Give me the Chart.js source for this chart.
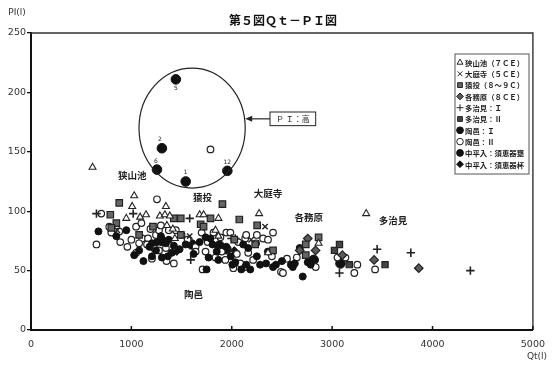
<!DOCTYPE html>
<html lang="ja">
<head>
<meta charset="utf-8">
<title>第５図Ｑｔ－ＰＩ図</title>
<script src="https://cdn.jsdelivr.net/npm/chart.js@4.4.1/dist/chart.umd.min.js"></script>
<style>
  html, body { margin: 0; padding: 0; background: #fff; }
  #wrap { width: 554px; height: 368px; position: relative; }
</style>
</head>
<body>
<div id="wrap"><canvas id="c" width="554" height="368"></canvas></div>
<script>
// ---- axis ticks ----
const qtTicks = [0, 1000, 2000, 3000, 4000, 5000];
const piTicks = [0, 50, 100, 150, 200, 250];

// ---- 狭山池（7CE） ----
const sayamaikeQt = [613, 1028, 1008, 1344, 949, 1087, 1146, 1284, 1334, 1383, 1680, 1719, 1867, 1354, 1413, 1433, 1838, 1867, 2272, 2361, 2865, 3339];
const sayamaikePI = [137, 113, 104, 104, 94, 95, 97, 96, 97, 96, 97, 97, 94, 88, 85, 77, 84, 79, 98, 65, 73, 98];

// ---- 大庭寺（5CE） ----
const obaderaQt = [860, 1581, 1996, 2193, 2332];
const obaderaPI = [84, 79, 67, 76, 87];

// ---- 猿投（8～9C） ----
const sanageQt = [879, 790, 850, 800, 1215, 1077, 1423, 1492, 1788, 1907, 1690, 1719, 1492, 2075, 2253, 2233, 2411, 2865, 2737, 2737, 2025];
const sanagePI = [107, 97, 90, 86, 87, 80, 94, 94, 94, 106, 89, 87, 80, 93, 88, 72, 67, 78, 72, 63, 76];

// ---- 各務原（8CE） ----
const kakamiQt = [2757, 2835, 2677, 3102, 3418, 3863];
const kakamiPI = [77, 67, 67, 63, 59, 52];

// ---- 多治見：I ----
const tajimi1Qt = [652, 1018, 1581, 1996, 2035, 3448, 3784, 4377, 3073, 1591];
const tajimi1PI = [98, 98, 94, 77, 77, 68, 65, 50, 48, 59];

// ---- 多治見：II ----
const tajimi2Qt = [3023, 3073, 3171, 3527];
const tajimi2PI = [67, 72, 55, 55];

// ---- 陶邑：I ----
const suemura1Qt = [672, 850, 1205, 1245, 1028, 1205, 1255, 1344, 1363, 1304, 1403, 1541, 1739, 1788, 1769, 1867, 2035, 2144, 1749, 2095, 2184, 1077, 1946, 2114, 2006, 2282, 2342, 2411, 2440, 2589, 2608, 2677, 2757, 2786, 2628, 2707, 1808, 1423, 1294, 2164, 1373,
  1180, 1480, 1620, 1680, 1850, 2250, 2500, 1120, 2360, 1990, 950];
const suemura1PI = [83, 79, 73, 67, 63, 62, 74, 73, 62, 61, 65, 72, 78, 77, 61, 59, 57, 55, 51, 51, 51, 67, 70, 72, 55, 55, 56, 53, 55, 55, 53, 69, 57, 55, 56, 45, 72, 71, 79, 69, 76,
  70, 68, 64, 74, 66, 62, 58, 58, 66, 62, 84];

// ---- 陶邑：II ----
const suemura2Qt = [1255, 700, 1047, 800, 879, 1107, 1166, 1245, 652, 889, 1156, 1047, 1205, 780, 1275, 1294, 1373, 1443, 1077, 1225, 1275, 1344, 1640, 1818, 1887, 1946, 2065, 2134, 1423, 1640, 1739, 1838, 1936, 2085, 2213, 1709, 2016, 1986, 2144, 2243, 2312, 2361, 2411, 2164, 2134, 2490, 2510, 2648, 2836, 3053, 3132, 3251, 3221, 3428, 1788,
  1100, 1190, 1500, 1560, 1700, 1760, 2250, 2050, 1900, 1350, 2400, 2550, 1000, 960];
const suemura2PI = [110, 98, 87, 82, 83, 77, 77, 80, 72, 74, 72, 65, 60, 87, 84, 88, 84, 84, 73, 69, 67, 69, 70, 82, 78, 82, 74, 77, 56, 66, 66, 61, 59, 56, 59, 51, 52, 82, 80, 73, 77, 76, 82, 65, 53, 49, 48, 61, 53, 61, 61, 55, 48, 51, 152,
  90, 85, 80, 76, 82, 74, 80, 64, 66, 58, 62, 60, 76, 70];

// ---- 中平入：須恵器甕 (sample numbers for the high-PI group) ----
const nakahiraKameQt = [1443, 1304, 1255, 1541, 1956, 1304, 1600, 1877, 1946, 3083, 2816];
const nakahiraKamePI = [211, 153, 135, 125, 134, 75, 72, 71, 68, 56, 59];
const nakahiraKameNo = ['5', '2', '6', '1', '12'];

// ---- 中平入：須恵器杯 ----
const nakahiraTukiQt = [1452, 2025];
const nakahiraTukiPI = [66, 67];

// ---- group names written on the plot ----
const regionNames = ['狭山池', '猿投', '大庭寺', '各務原', '多治見', '陶邑'];
const regionQt = [1008, 1709, 2361, 2766, 3606, 1620];
const regionPI = [130.5, 112, 115, 95, 92, 30];

const pairs = (qt, pi) => qt.map((v, i) => ({ x: v, y: pi[i] }));

const series = [
  { label: '狭山池（７ＣＥ）', qt: sayamaikeQt, pi: sayamaikePI, style: 'triangle', r: 4.0, fill: '#fff', line: '#222', bw: 1.1 },
  { label: '大庭寺（５ＣＥ）', qt: obaderaQt, pi: obaderaPI, style: 'crossRot', r: 3.8, fill: '#222', line: '#222', bw: 1.4 },
  { label: '猿投（８～９Ｃ）', qt: sanageQt, pi: sanagePI, style: 'rect', r: 4.6, fill: '#666', line: '#222', bw: 1.2 },
  { label: '各務原（８ＣＥ）', qt: kakamiQt, pi: kakamiPI, style: 'rectRot', r: 4.3, fill: '#5a5a5a', line: '#222', bw: 1.2 },
  { label: '多治見：Ｉ', qt: tajimi1Qt, pi: tajimi1PI, style: 'cross', r: 4.2, fill: '#222', line: '#222', bw: 1.6 },
  { label: '多治見：Ⅱ', qt: tajimi2Qt, pi: tajimi2PI, style: 'rect', r: 4.4, fill: '#444', line: '#222', bw: 1.2 },
  { label: '陶邑：Ｉ', qt: suemura1Qt, pi: suemura1PI, style: 'circle', r: 3.5, fill: '#111', line: '#111', bw: 1 },
  { label: '陶邑：Ⅱ', qt: suemura2Qt, pi: suemura2PI, style: 'circle', r: 3.3, fill: '#fff', line: '#222', bw: 1.2 },
  { label: '中平入：須恵器甕', qt: nakahiraKameQt, pi: nakahiraKamePI, style: 'circle', r: 4.8, fill: '#111', line: '#111', bw: 1 },
  { label: '中平入：須恵器杯', qt: nakahiraTukiQt, pi: nakahiraTukiPI, style: 'rectRot', r: 3.8, fill: '#111', line: '#111', bw: 1 }
];

const datasets = series.map(s => ({
  label: s.label,
  data: pairs(s.qt, s.pi),
  pointStyle: s.style,
  pointRadius: s.r,
  pointBackgroundColor: s.fill,
  pointBorderColor: s.line,
  pointBorderWidth: s.bw,
  showLine: false
}));

const CJK = '"Noto Sans CJK JP", "Noto Sans CJK SC", sans-serif';

const overlay = {
  id: 'overlay',
  afterDraw(chart) {
    const { ctx, chartArea: a } = chart;
    const sx = chart.scales.x, sy = chart.scales.y;
    const X = v => sx.getPixelForValue(v), Y = v => sy.getPixelForValue(v);
    ctx.save();

    // frame: top and right edges of the plot
    ctx.strokeStyle = '#333';
    ctx.lineWidth = 1.4;
    ctx.beginPath();
    ctx.moveTo(a.left, a.top);
    ctx.lineTo(a.right, a.top);
    ctx.lineTo(a.right, a.bottom);
    ctx.stroke();

    // short tick marks standing on the Qt axis
    ctx.strokeStyle = '#111';
    ctx.lineWidth = 1.5;
    qtTicks.forEach(v => {
      const px = X(v);
      ctx.beginPath();
      ctx.moveTo(px, a.bottom);
      ctx.lineTo(px, a.bottom - 4);
      ctx.stroke();
    });

    // title and axis names
    ctx.fillStyle = '#111';
    ctx.font = 'bold 12px ' + CJK;
    ctx.textAlign = 'center';
    ctx.textBaseline = 'middle';
    ctx.fillText('第５図Ｑｔ－ＰＩ図', 283, 20);

    ctx.fillStyle = '#333';
    ctx.font = '9px "DejaVu Sans", sans-serif';
    ctx.fillText('PI(l)', 17, 13);
    ctx.fillText('Qt(l)', 537, 357);

    // group names
    ctx.fillStyle = '#222';
    ctx.font = 'bold 9.5px ' + CJK;
    regionNames.forEach((n, i) => ctx.fillText(n, X(regionQt[i]), Y(regionPI[i])));

    // high-PI group: ellipse, callout and sample numbers
    const cx = X(1605), cy = Y(170);
    const rx = X(1605 + 529) - cx, ry = cy - Y(170 + 50.5);
    ctx.strokeStyle = '#222';
    ctx.lineWidth = 1.2;
    ctx.beginPath();
    ctx.ellipse(cx, cy, rx, ry, 0, 0, Math.PI * 2);
    ctx.stroke();

    const bx0 = X(2381), bx1 = X(2836), by0 = Y(183.5), by1 = Y(172);
    ctx.lineWidth = 1;
    ctx.strokeRect(bx0, by0, bx1 - bx0, by1 - by0);
    ctx.fillStyle = '#222';
    ctx.font = '8px ' + CJK;
    ctx.fillText('Ｐ Ｉ：高', (bx0 + bx1) / 2, (by0 + by1) / 2 + 0.5);

    const ay = (by0 + by1) / 2, tip = cx + rx;
    ctx.lineWidth = 1.2;
    ctx.beginPath();
    ctx.moveTo(bx0, ay);
    ctx.lineTo(tip + 5, ay);
    ctx.stroke();
    ctx.beginPath();
    ctx.moveTo(tip, ay);
    ctx.lineTo(tip + 7, ay - 3);
    ctx.lineTo(tip + 7, ay + 3);
    ctx.closePath();
    ctx.fill();

    const noOffsets = [[0, 9], [-2, -9], [-1, -8], [0, -9], [0, -8]];
    ctx.font = '6px "DejaVu Sans", sans-serif';
    nakahiraKameNo.forEach((t, i) => {
      ctx.fillText(t, X(nakahiraKameQt[i]) + noOffsets[i][0], Y(nakahiraKamePI[i]) + noOffsets[i][1]);
    });

    // legend box
    const lx = 455, ly = 54, lw = 74, lh = 120, step = 11.3;
    ctx.fillStyle = '#fff';
    ctx.fillRect(lx, ly, lw, lh);
    ctx.strokeStyle = '#555';
    ctx.lineWidth = 1;
    ctx.strokeRect(lx, ly, lw, lh);
    ctx.textAlign = 'left';
    ctx.font = 'bold 7.4px ' + CJK;
    series.forEach((s, i) => {
      const ry2 = ly + 8.5 + i * step;
      ctx.fillStyle = s.fill;
      ctx.strokeStyle = s.line;
      Chart.helpers.drawPoint(ctx, {
        pointStyle: s.style,
        radius: Math.min(s.r, 3.4),
        rotation: 0,
        borderWidth: s.bw
      }, lx + 5, ry2);
      ctx.fillStyle = '#222';
      ctx.fillText(s.label, lx + 10, ry2 + 0.5);
    });

    ctx.restore();
  }
};

new Chart(document.getElementById('c'), {
  type: 'scatter',
  data: { datasets },
  options: {
    responsive: false,
    animation: false,
    devicePixelRatio: 1,
    layout: { padding: { top: 33, right: 17, left: 0, bottom: 0 } },
    plugins: {
      legend: { display: false },
      tooltip: { enabled: false },
      title: { display: false }
    },
    scales: {
      x: {
        type: 'linear',
        min: qtTicks[0],
        max: qtTicks[qtTicks.length - 1],
        afterBuildTicks: s => { s.ticks = qtTicks.map(v => ({ value: v })); },
        afterFit: s => { s.height = 38; },
        grid: { display: false, drawTicks: false },
        border: { display: true, color: '#111', width: 2 },
        ticks: { padding: 9, color: '#333', font: { family: '"DejaVu Sans", sans-serif', size: 9.5 }, maxRotation: 0, callback: v => String(v) }
      },
      y: {
        type: 'linear',
        min: piTicks[0],
        max: piTicks[piTicks.length - 1],
        afterBuildTicks: s => { s.ticks = piTicks.map(v => ({ value: v })); },
        afterFit: s => { s.width = 31; },
        grid: { display: true, drawOnChartArea: false, drawTicks: true, tickLength: 4, color: '#111', lineWidth: 1.3 },
        border: { display: true, color: '#111', width: 2 },
        ticks: { padding: 1, color: '#333', font: { family: '"DejaVu Sans", sans-serif', size: 9.5 }, callback: v => String(v) }
      }
    }
  },
  plugins: [overlay]
});
</script>
</body>
</html>
